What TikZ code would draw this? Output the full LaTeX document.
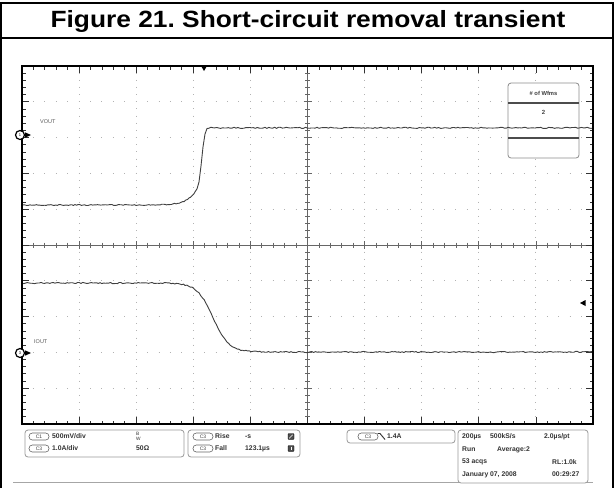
\documentclass[tikz,border=0pt]{standalone}
\usepackage{fontspec}
\setmainfont{Liberation Sans}
\frenchspacing
\begin{document}
\begin{tikzpicture}[x=1pt,y=-1pt,
  frameline/.style={line width=2pt,black},
  dotgrid/.style={gray!60,line width=1pt},
  axisline/.style={gray!80!black,line width=0.8pt},
  trace/.style={black!75,line width=0.9pt,line join=round},
  panel/.style={draw=gray!80,line width=0.8pt,rounded corners=3pt,fill=white},
  chov/.style={draw=gray!80!black,line width=0.6pt,rounded corners=3.3pt,minimum width=20pt,minimum height=7pt,inner sep=0pt,font=\fontsize{5}{5}\selectfont,text=black!75},
  info/.style={anchor=west,inner sep=0pt,font=\fontsize{6.8}{7}\selectfont\bfseries,text=black!80},
  lbl/.style={anchor=west,inner sep=0pt,font=\fontsize{5.5}{6}\selectfont,text=black!65},
  gnd/.style={circle,draw=black,line width=1.2pt,fill=white,minimum size=9pt,inner sep=0pt,font=\fontsize{4}{4}\selectfont}
]
\useasboundingbox (0,0) rectangle (615,488);
\fill[white] (0,0) rectangle (615,488);
% outer frame and title
\draw[frameline] (1,488) -- (1,3.3) -- (613,3.3) -- (613,488);
\draw[frameline] (1,38) -- (613,38);
\node[anchor=base,inner sep=0pt,font=\fontsize{23.5}{24}\selectfont\bfseries] (title) at (308,27) {\scalebox{1.12}[1]{Figure 21. Short-circuit removal transient}};
% dotted grid
\foreach \i in {1,2,3,4,6,7,8,9}{
  \draw[dotgrid,dash pattern=on 1pt off 6.16pt,dash phase=0.5pt] (22+57.1*\i,66) -- (22+57.1*\i,424);
  \draw[dotgrid,dash pattern=on 1pt off 10.42pt,dash phase=0.5pt] (22,66+35.8*\i) -- (593,66+35.8*\i);
}
% center axes
\draw[axisline] (22,245) -- (593,245);
\draw[axisline] (307.5,66) -- (307.5,424);
\foreach \i in {1,...,49}{
  \pgfmathsetmacro\len{ifthenelse(mod(\i,5)==0,4,2.5)}
  \pgfmathsetmacro\edge{ifthenelse(mod(\i,5)==0,7,3.5)}
  \pgfmathsetmacro\xx{22+11.42*\i}
  \pgfmathsetmacro\yy{66+7.16*\i}
  \draw[axisline] (\xx,245-\len) -- (\xx,245+\len);
  \draw[axisline] (307.5-\len,\yy) -- (307.5+\len,\yy);
  \draw[black!80,line width=0.8pt] (\xx,66) -- (\xx,66+\edge);
  \draw[black!80,line width=0.8pt] (\xx,424) -- (\xx,424-\edge);
  \draw[black!80,line width=0.8pt] (22,\yy) -- (22+\edge,\yy);
  \draw[black!80,line width=0.8pt] (593,\yy) -- (593-\edge,\yy);
}
% waveform count box
\draw[panel,draw=gray!90] (508,83) rectangle (579,158);
\draw[gray!60!black,line width=1.2pt] (508,103) -- (579,103);
\draw[gray!60!black,line width=1.2pt] (508,138) -- (579,138);
\node[inner sep=0pt,font=\fontsize{5.8}{6}\selectfont\bfseries,text=black!75] (wfm) at (543.5,93) {\# of Wfms};
\node[inner sep=0pt,font=\fontsize{6}{6}\selectfont\bfseries,text=black!75] (wfmn) at (543.5,112) {2};
% traces
\pgfmathsetseed{7}
\draw[trace] plot[domain=22:197,samples=110] (\x,{205-0.8*exp(max(-9,(\x-170)/9))+0.5*rand})
  -- (199,182) -- (201,166) -- (203,147) -- (205,134) -- (207,128.5)
  -- plot[domain=209:593,samples=200] (\x,{127.8+0.6*rand});
\draw[trace] plot[domain=22:593,samples=330] (\x,{283+69/(1+exp(min(9,max(-9,(213-\x)/8))))+0.6*rand});
% frame
\draw[frameline] (22,66) rectangle (593,424);
% labels and markers
\node[lbl] (vout) at (40,122) {VOUT};
\node[lbl] (iout) at (34,342) {IOUT};
\fill[black] (25,132.3) -- (31,135) -- (25,137.7) -- cycle;
\node[gnd] (g1) at (20,135) {1};
\fill[black] (25,350.3) -- (31,353) -- (25,355.7) -- cycle;
\node[gnd] (g3) at (20,353) {3};
\fill[black] (200.5,65) -- (207.5,65) -- (204,71) -- cycle;
\fill[black] (580,303) -- (585.5,300) -- (585.5,306) -- cycle;
% bottom line
\draw[gray!70,line width=1pt] (13,482) -- (593,482);
% panels
\draw[panel] (25,430) rectangle (184,457);
\draw[panel] (188,430) rectangle (300,457);
\draw[panel] (347,430) rectangle (455,443);
\draw[panel] (458,430) rectangle (588,483);
\node[chov] (c1a) at (39,436.5) {C1};
\node[chov] (c3a) at (39,448.5) {C3};
\node[info] (v1) at (52,436.5) {500mV/div};
\node[info] (v3) at (52,448.5) {1.0A/div};
\node[info] (bw) at (136,436.5) {$^{\mathrm{B}}_{\mathrm{W}}$};
\node[info] (imp) at (136,448.5) {50Ω};
\node[chov] (c3b) at (203,436.5) {C3};
\node[chov] (c3c) at (203,448.5) {C3};
\node[info] (rise) at (215,436.5) {Rise};
\node[info] (risev) at (245,436.5) {-s};
\node[info] (fall) at (215,448.5) {Fall};
\node[info] (fallv) at (245,448.5) {123.1µs};
\node[draw=black,fill=black!70,minimum size=6pt,inner sep=0pt,rounded corners=0.8pt] (ic1) at (291,436.5) {};
\node[draw=black,fill=black!70,minimum size=6pt,inner sep=0pt,rounded corners=0.8pt] (ic2) at (291,448.5) {};
\draw[white,line width=0.6pt] (289.3,438.3) -- (292.7,434.7);
\draw[white,line width=0.6pt] (291,446.7) -- (291,450.3);
\node[chov] (c3d) at (368,436.5) {C3};
\draw[black!80,line width=0.9pt] (377.5,433.5) -- (380,433.5) -- (385,439.5);
\node[info] (trig) at (387,436.5) {1.4A};
\node[info] (t1) at (462,436.5) {200µs};
\node[info] (t2) at (490,436.5) {500kS/s};
\node[info] (t3) at (544,436.5) {2.0µs/pt};
\node[info] (t4) at (462,449.5) {Run};
\node[info] (t5) at (497,449.5) {Average:2};
\node[info] (t6) at (462,462) {53 acqs};
\node[info] (t7) at (552,462) {RL:1.0k};
\node[info] (t8) at (462,474.5) {January 07, 2008};
\node[info] (t9) at (552,474.5) {00:29:27};
\end{tikzpicture}
\end{document}
